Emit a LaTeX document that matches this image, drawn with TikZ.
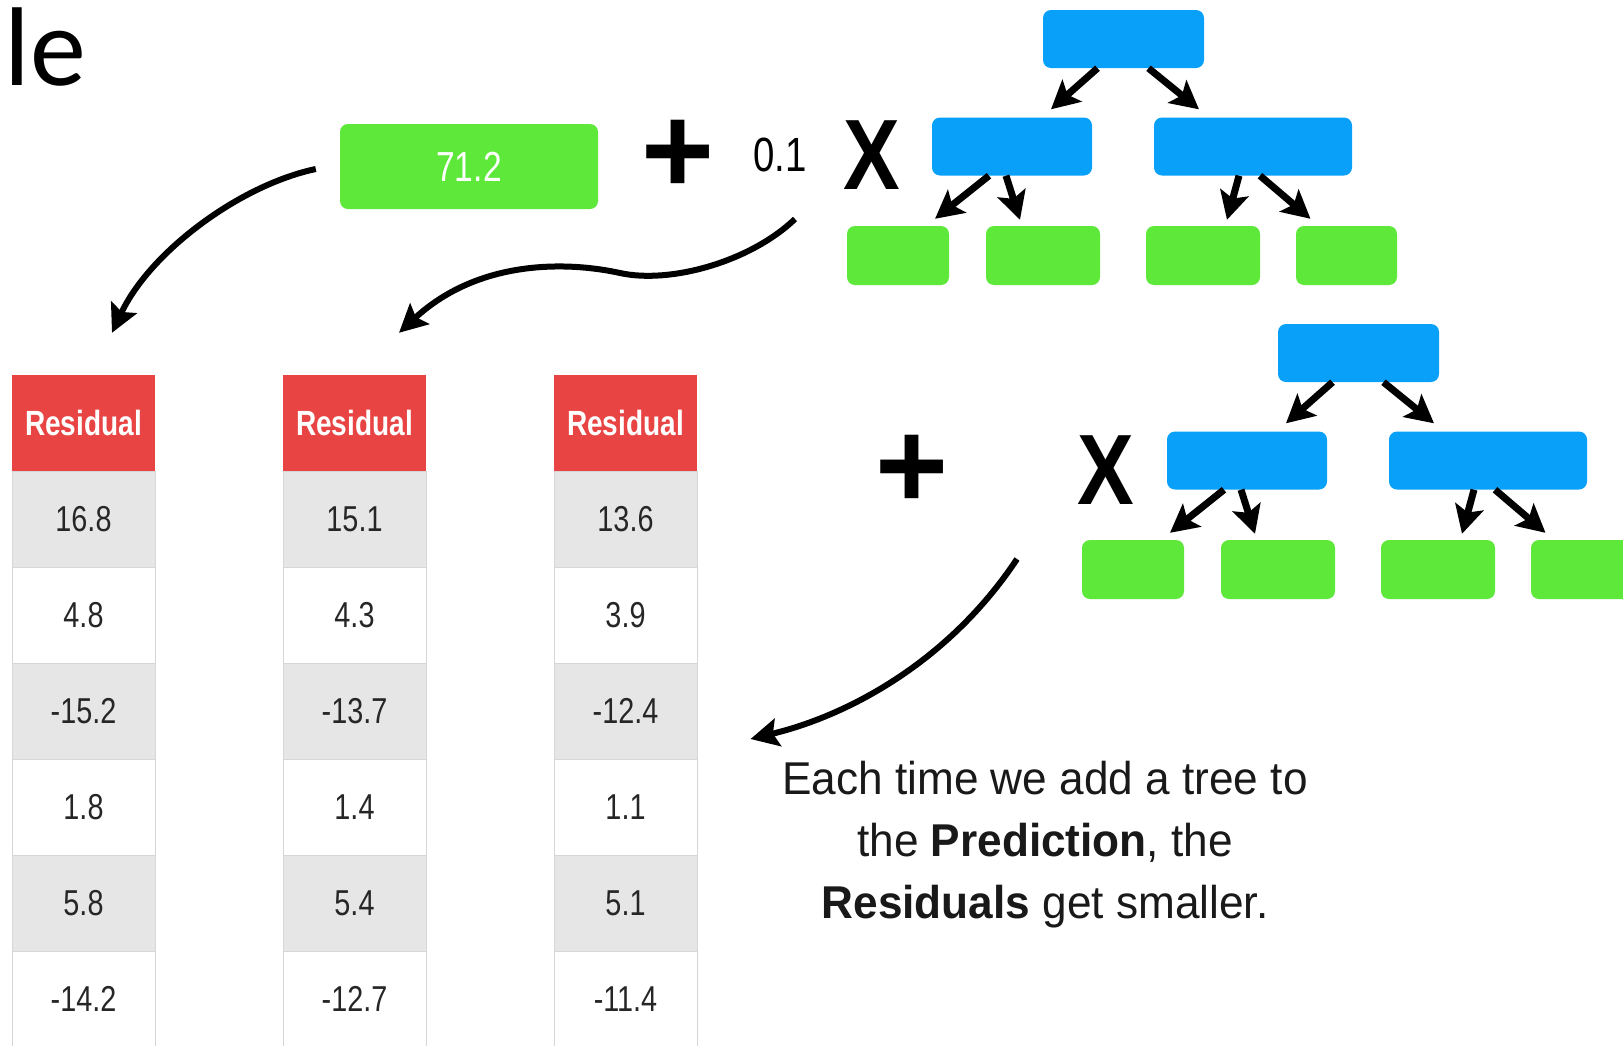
\documentclass[tikz,border=0pt]{standalone}
\usepackage{fontspec}
\usetikzlibrary{arrows.meta}

\newfontfamily\titlefont{Carlito}
\newfontfamily\cellfont[FakeStretch=0.8]{Liberation Sans}
\newfontfamily\notefont[FakeStretch=0.96]{Liberation Sans}
\newfontfamily\signfont{Liberation Sans}
\newfontfamily\multfont[FakeStretch=0.85]{Liberation Sans}

\definecolor{leafgreen}{RGB}{94,232,58}
\definecolor{splitblue}{RGB}{8,160,248}
\definecolor{headred}{RGB}{233,68,68}
\definecolor{rowgray}{RGB}{230,230,230}
\definecolor{rowline}{RGB}{214,214,214}

\tikzstyle{split} = [rectangle, rounded corners=8pt, fill=splitblue, minimum height=58pt]
\tikzstyle{leaf} = [rectangle, rounded corners=8pt, fill=leafgreen, minimum height=59pt]
\tikzstyle{branch} = [line width=7pt, -{Stealth[length=28pt,width=29pt,inset=6pt]}]
\tikzstyle{bigarrow} = [line width=6pt, -{Stealth[length=28pt,width=28pt,inset=5pt]}]
\tikzstyle{head} = [rectangle, fill=headred, text=white, minimum width=143pt, minimum height=96pt, font=\cellfont\bfseries\fontsize{35}{40}\selectfont]
\tikzstyle{cell} = [rectangle, draw=rowline, line width=1pt, minimum width=143pt, minimum height=96pt, text=black!85, font=\cellfont\fontsize{36}{40}\selectfont]
\tikzstyle{sign} = [inner sep=0pt, font=\signfont\bfseries\fontsize{125}{125}\selectfont]
\tikzstyle{mult} = [inner sep=0pt, font=\multfont\bfseries\fontsize{100}{100}\selectfont]

\begin{document}
\begin{tikzpicture}[x=1pt, y=1pt]
    \useasboundingbox (0,0) rectangle (1623,-1045);
    \fill[white] (0,0) rectangle (1623,-1045);

    \node[anchor=base west, inner sep=0pt, font=\titlefont\fontsize{112}{116}\selectfont] (title) at (4.5,-85) {le};

    % first prediction, learning rate and the two trees
    \node[leaf, minimum width=258pt, minimum height=85pt, text=white, font=\cellfont\fontsize{42}{46}\selectfont] (base) at (469,-166.5) {71.2};
    \node[sign] (plus1) at (678,-157) {+};
    \node[inner sep=0pt, font=\cellfont\fontsize{48}{50}\selectfont] (rate) at (780,-155) {0.1};
    \node[mult] (x1) at (872,-155) {X};
    \node[sign] (plus2) at (912,-472) {+};
    \node[mult] (x2) at (1106,-470) {X};

    \foreach \t/\dx/\dy in {1/0/0, 2/235/314} {
        \begin{scope}[shift={(\dx,-\dy)}]
            \node[split, minimum width=161pt] (r\t) at (1123.5,-39) {};
            \node[split, minimum width=160pt] (a\t) at (1012,-146.5) {};
            \node[split, minimum width=198pt] (b\t) at (1253,-146.5) {};
            \node[leaf, minimum width=102pt] (l\t1) at (898,-255.5) {};
            \node[leaf, minimum width=114pt] (l\t2) at (1043,-255.5) {};
            \node[leaf, minimum width=114pt] (l\t3) at (1203,-255.5) {};
            \node[leaf, minimum width=101pt] (l\t4) at (1346.5,-255.5) {};

            \draw[branch] ([xshift=-26pt]r\t.south) -- ([xshift=39pt,yshift=8pt]a\t.north);
            \draw[branch] ([xshift=25pt]r\t.south) -- ([xshift=-54pt,yshift=8pt]b\t.north);
            \draw[branch] ([xshift=-23pt]a\t.south) -- ([xshift=37pt,yshift=7pt]l\t1.north);
            \draw[branch] ([xshift=-6pt]a\t.south) -- ([xshift=-23pt,yshift=6pt]l\t2.north);
            \draw[branch] ([xshift=-14pt]b\t.south) -- ([xshift=24pt,yshift=6pt]l\t3.north);
            \draw[branch] ([xshift=7pt]b\t.south) -- ([xshift=-36pt,yshift=7pt]l\t4.north);
        \end{scope}
    }

    % residual columns
    \foreach \c/\x/\vals in {1/83.5/{16.8,4.8,-15.2,1.8,5.8,-14.2},
                             2/354.5/{15.1,4.3,-13.7,1.4,5.4,-12.7},
                             3/625.5/{13.6,3.9,-12.4,1.1,5.1,-11.4}} {
        \node[head] (head\c) at (\x,-423) {Residual};
        \foreach \v [count=\r] in \vals {
            \ifodd\r\relax \def\rowfill{rowgray}\else \def\rowfill{white}\fi
            \node[cell, fill=\rowfill] (res\c-\r) at (\x,-423-96*\r) {\v};
        }
    }

    \coordinate (wave) at (795,-219);
    \coordinate (swing) at (1017,-559);

    \draw[bigarrow] ([xshift=-24pt,yshift=-2.5pt]base.west) .. controls +(-76,-16) and +(38,81) .. ([xshift=28.5pt,yshift=42pt]head1.north);
    \draw[bigarrow] (wave) .. controls (750,-262) and (670,-284) .. (620,-273)
        .. controls (570,-262) and (480,-258) .. ([xshift=44.5pt,yshift=42pt]head2.north);
    \draw[bigarrow] (swing) .. controls +(-67,-101) and +(100,24) .. ([xshift=53pt,yshift=-28pt]res3-3.east);

    \node[align=center, text=black!90, font=\notefont\fontsize{46}{62}\selectfont] (note) at (1045,-845)
        {Each time we add a tree to\\ the \textbf{Prediction}, the\\ \textbf{Residuals} get smaller.};
\end{tikzpicture}
\end{document}
